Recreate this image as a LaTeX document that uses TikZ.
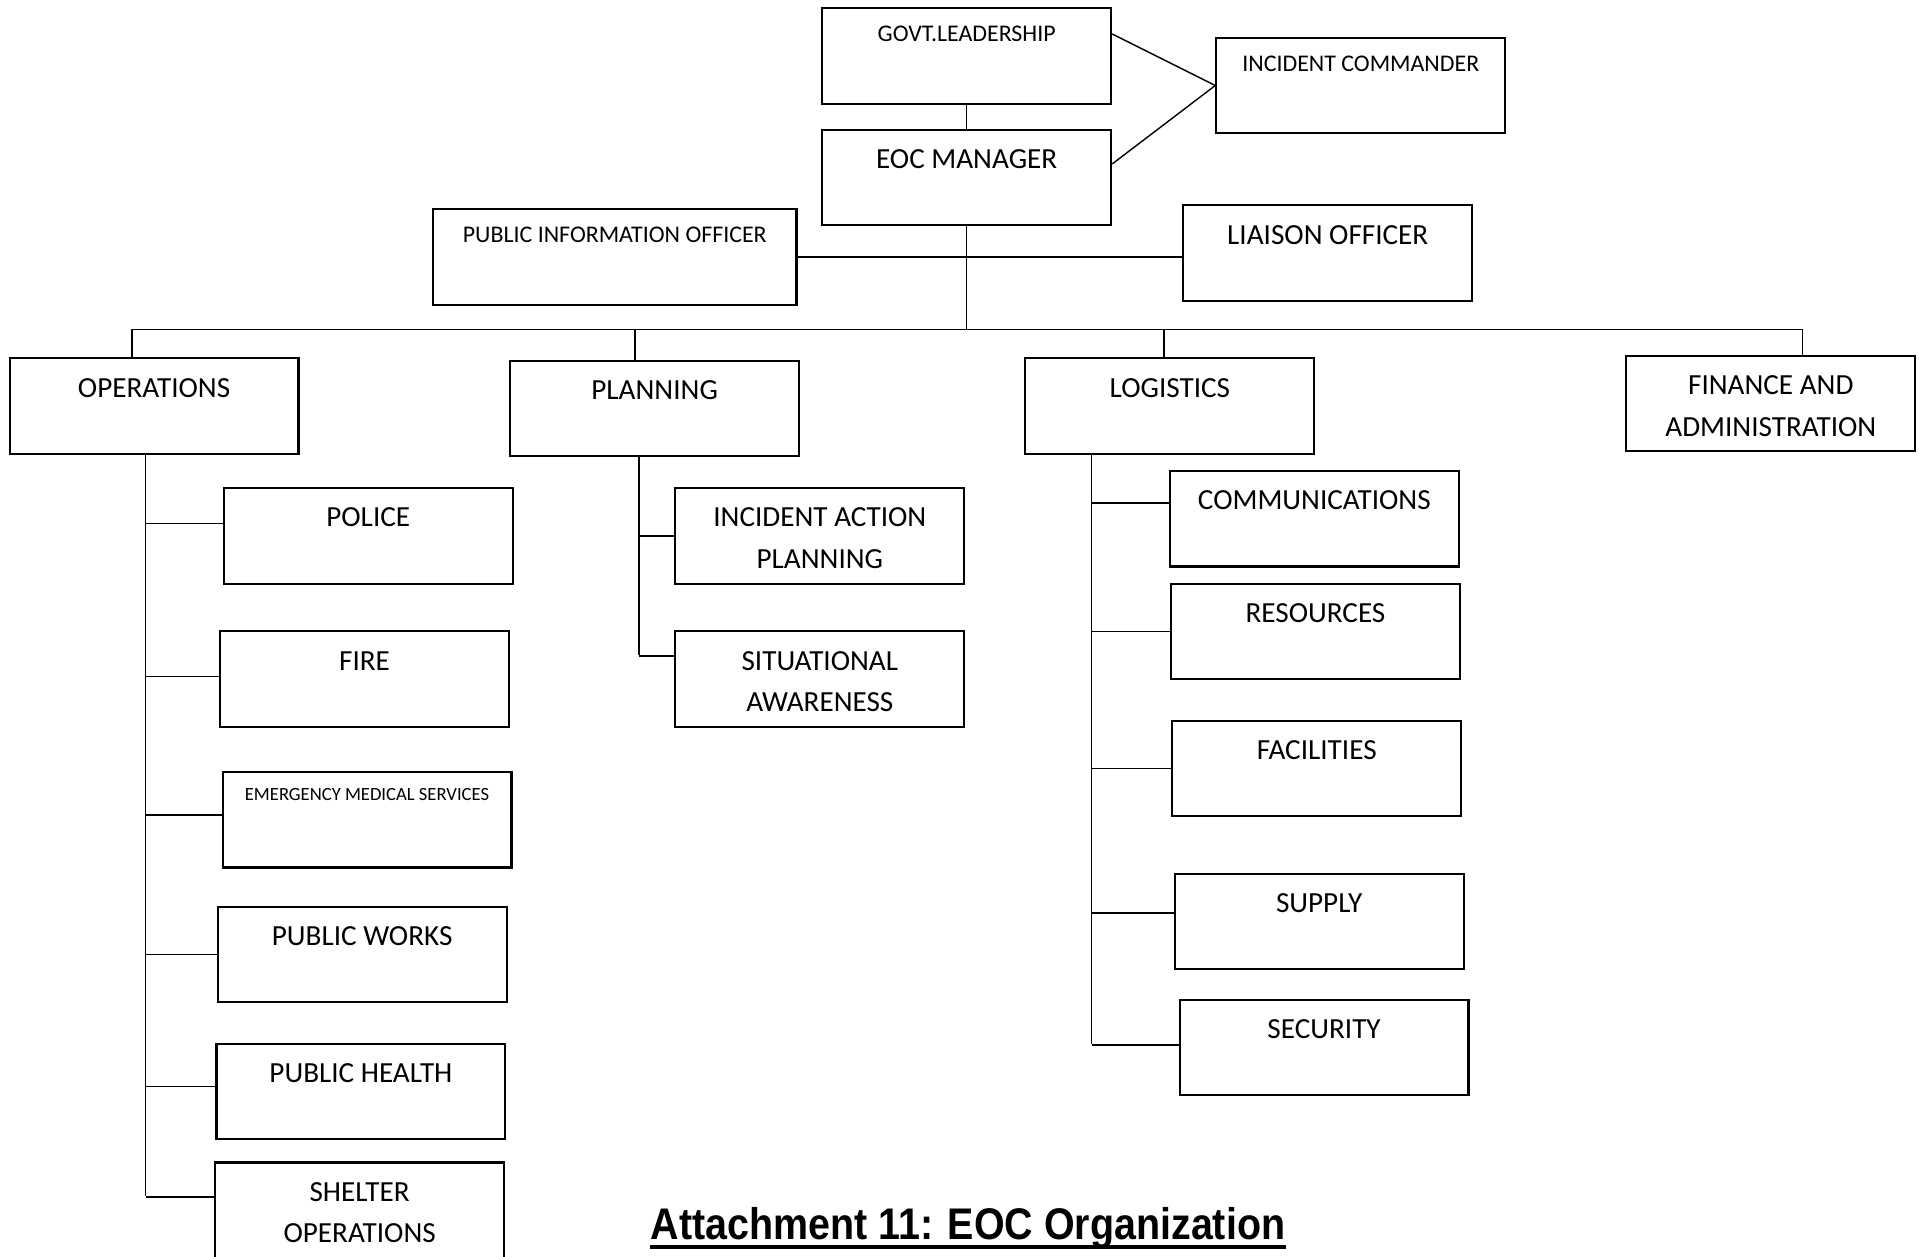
\documentclass[tikz,border=0pt]{standalone}
\usepackage{fontspec}
\setmainfont{Carlito}
\newfontfamily\titlefont[FakeStretch=0.89]{Liberation Sans}
\usepackage{tikz}
\usetikzlibrary{positioning, calc}
\tikzset{
	box/.style={draw, line width=0.6pt, anchor=north west, inner sep=0pt, align=center, minimum width=82.2pt, font=\fontsize{8.3}{11.8}\selectfont, text height=11pt, text depth=16.16pt},
	twobox/.style={box, text height=22.8pt, text depth=4.36pt},
	smallbox/.style={box, font=\fontsize{6.8}{8}\selectfont, text height=9.5pt, text depth=17.66pt},
	tinybox/.style={box, font=\fontsize{5.3}{6}\selectfont, text height=8pt, text depth=19.16pt},
	link/.style={line width=0.4pt}
}

\begin{document}
\begin{tikzpicture}[x=0.3482pt, y=-0.3482pt]
				\useasboundingbox (0,0) rectangle (1568,1027);
				\node[smallbox] (govt) at (671,6) {GOVT.LEADERSHIP};
				\node[smallbox] (ic) at (993,30) {INCIDENT COMMANDER};
				\node[box] (eoc) at (671,105) {EOC MANAGER};
				\node[smallbox, minimum width=103.4pt] (pio) at (353,170) {PUBLIC INFORMATION OFFICER};
				\node[box] (liaison) at (966,167) {LIAISON OFFICER};
				
				\node[box] (ops) at (7,292) {OPERATIONS};
				\node[box] (plan) at (416,294) {PLANNING};
				\node[box] (log) at (837,292) {LOGISTICS};
				\node[twobox] (fin) at (1328,290) {FINANCE AND\\ADMINISTRATION};
				
				\node[box] (police) at (182,398) {POLICE};
				\node[box] (fire) at (179,515) {FIRE};
				\node[tinybox] (ems) at (181,630) {EMERGENCY MEDICAL SERVICES};
				\node[box] (pw) at (177,740) {PUBLIC WORKS};
				\node[box] (ph) at (176,852) {PUBLIC HEALTH};
				\node[twobox] (shelter) at (175,949) {SHELTER\\OPERATIONS};
				
				\node[twobox] (iap) at (551,398) {INCIDENT ACTION\\PLANNING};
				\node[twobox] (sa) at (551,515) {SITUATIONAL\\AWARENESS};
				
				\node[box] (comms) at (955,384) {COMMUNICATIONS};
				\node[box] (res) at (956,476) {RESOURCES};
				\node[box] (fac) at (957,588) {FACILITIES};
				\node[box] (supply) at (959,713) {SUPPLY};
				\node[box] (security) at (963,816) {SECURITY};
				
				\node[font=\titlefont\bfseries\fontsize{12.6}{14}\selectfont, inner sep=0pt, anchor=base] (title) at (791,1013) {Attachment 11: EOC Organization};
				\draw[line width=1.1pt] ([yshift=-2.1pt]title.base west) -- ([yshift=-2.1pt]title.base east);
				
				\coordinate (busL) at (108,269);
				\coordinate (busR) at (1473,269);
				\coordinate (opsend) at (119,977);
				\coordinate (planend) at (522,535);
				\coordinate (logend) at (892,853);
				
				\draw[link] (govt) -- (eoc);
				\draw[link] ([yshift=6.3pt]govt.east) -- (ic.west);
				\draw[link] ([yshift=3.8pt]eoc.east) -- (ic.west);
				\draw[link] (pio.east) -- (pio.east -| liaison.west);
				\draw[link] (eoc.south) -- (eoc.south |- busL);
				\draw[link] (busL) -- (busR);
				\draw[link] (busL) -- (busL |- ops.north);
				\draw[link] ([xshift=-5.6pt]plan.north) -- ([xshift=-5.6pt]plan.north |- busL);
				\draw[link] ([xshift=-1.7pt]log.north) -- ([xshift=-1.7pt]log.north |- busL);
				\draw[link] (busR) -- (busR |- fin.north);
				
				\draw[link] (ops.south -| opsend) -- (opsend);
				\draw[link] ([yshift=3.5pt]police.west) -- ([yshift=3.5pt]police.west -| opsend);
				\draw[link] ([yshift=0.7pt]fire.west) -- ([yshift=0.7pt]fire.west -| opsend);
				\draw[link] ([yshift=1.4pt]ems.west) -- ([yshift=1.4pt]ems.west -| opsend);
				\draw[link] (pw.west) -- (pw.west -| opsend);
				\draw[link] ([yshift=1.4pt]ph.west) -- ([yshift=1.4pt]ph.west -| opsend);
				\draw[link] ([yshift=3.8pt]shelter.west) -- ([yshift=3.8pt]shelter.west -| opsend);
				
				\draw[link] (plan.south -| planend) -- (planend);
				\draw[link] (iap.west) -- (iap.west -| planend);
				\draw[link] ([yshift=6.6pt]sa.west) -- ([yshift=6.6pt]sa.west -| planend);
				
				\draw[link] (log.south -| logend) -- (logend);
				\draw[link] ([yshift=4.5pt]comms.west) -- ([yshift=4.5pt]comms.west -| logend);
				\draw[link] (res.west) -- (res.west -| logend);
				\draw[link] (fac.west) -- (fac.west -| logend);
				\draw[link] ([yshift=2.4pt]supply.west) -- ([yshift=2.4pt]supply.west -| logend);
				\draw[link] ([yshift=0.7pt]security.west) -- ([yshift=0.7pt]security.west -| logend);
\end{tikzpicture}
\end{document}
